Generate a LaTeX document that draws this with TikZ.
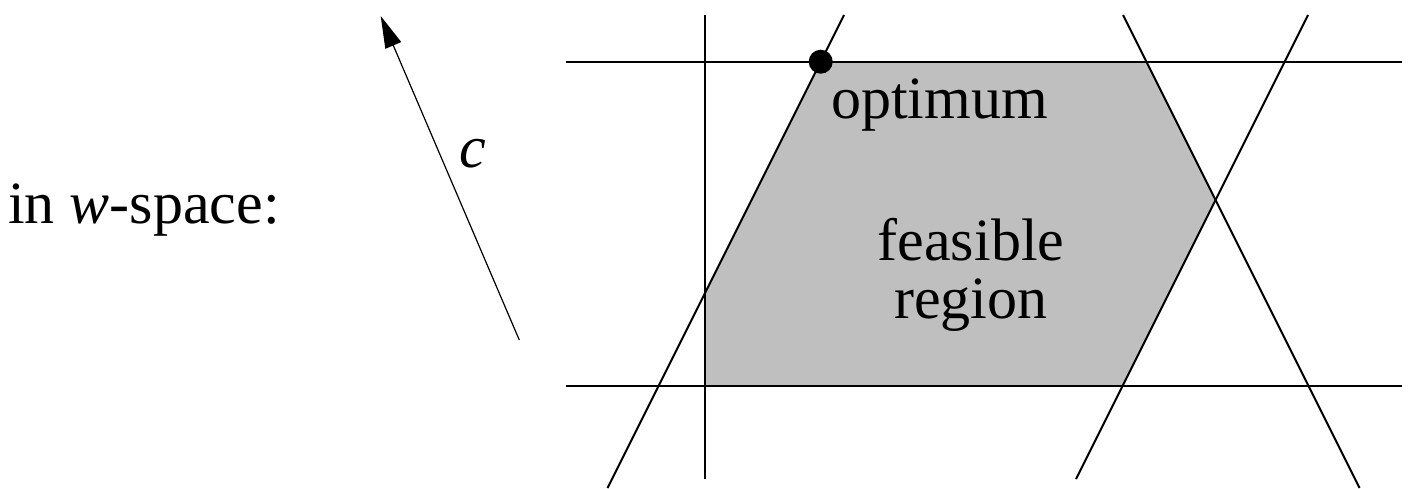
\documentclass[tikz,border=0pt]{standalone}
\usepackage{fontspec}
\setmainfont{Liberation Serif}
\usetikzlibrary{arrows.meta}
\begin{document}
\begin{tikzpicture}[x=1pt,y=-1pt,
  cline/.style={line width=2pt},
  lbl/.style={inner sep=0pt, font=\fontsize{60}{58}\selectfont},
  region/.style={fill=gray!50},
  optdot/.style={circle, fill=black, inner sep=0pt, minimum size=24pt},
  carrow/.style={line width=1.2pt, -{Triangle[length=32pt,width=17pt]}}
  ]
\useasboundingbox (0,0) rectangle (1412,488);
% corners of feasible region
\coordinate (p1) at (705,293.1);
\coordinate (p2) at (820.7,61.7);
\coordinate (p3) at (1146.35,61.7);
\coordinate (p4) at (1215.5,200);
\coordinate (p5) at (1122.5,386);
\coordinate (p6) at (705,386);
\fill[region] (p1) -- (p2) -- (p3) -- (p4) -- (p5) -- (p6) -- cycle;
% constraint lines end points
\coordinate (htl) at (566,61.7);
\coordinate (htr) at (1402,61.7);
\coordinate (hbl) at (566,386);
\coordinate (hbr) at (1402,386);
\coordinate (vt) at (705,15);
\coordinate (vb) at (705,479);
\coordinate (l1b) at (607.5,488);
\coordinate (l1t) at (844,15);
\coordinate (l2t) at (1123,15);
\coordinate (l2b) at (1359.5,488);
\coordinate (l3t) at (1308,15);
\coordinate (l3b) at (1076,479);
\draw[cline] (htl) -- (htr);
\draw[cline] (hbl) -- (hbr);
\draw[cline] (vt) -- (vb);
\draw[cline] (l1b) -- (l1t);
\draw[cline] (l2t) -- (l2b);
\draw[cline] (l3t) -- (l3b);
% optimum
\node[optdot] (opt) at (p2) {};
% cost vector
\coordinate (ctail) at (519.3,340);
\coordinate (ctip) at (380.7,16);
\draw[carrow] (ctail) -- (ctip);
% labels
\node[lbl, anchor=base] (clabel) at (473,167) {\textit{c}};
\node[lbl, anchor=base west] (space) at (8,223) {in \textit{w}-space:};
\node[lbl, anchor=base west] (optlabel) at (831,118) {optimum};
\node[lbl, anchor=base, align=center] (feas) at (971,318) {feasible\\region};
\end{tikzpicture}
\end{document}
